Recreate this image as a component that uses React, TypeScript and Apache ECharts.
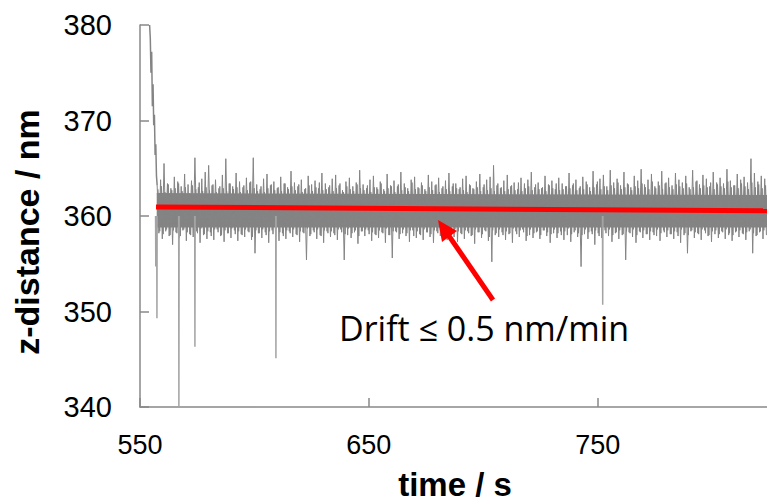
import React, { useEffect, useRef } from "react";
import * as echarts from "echarts";

// ---- data ----
const xTicks = [550, 650, 750];
const yTicks = [340, 350, 360, 370, 380];

// initial transient (time s, z nm)
const transTimes = [554.2, 554.5, 554.8, 555.1, 555.4, 555.7, 556.0, 556.3, 556.6, 556.9, 557.2, 557.5];
const transVals = [380.0, 378.6, 375.0, 377.2, 371.5, 373.8, 369.5, 370.6, 366.4, 367.5, 364.2, 363.2];

// noise trace: sample start time and step (s) between consecutive peak/valley pairs
const traceStart = 557.5;
const traceStep = 1.5;
// upper excursions of the noise band (nm), first pass
const topVals = [
  363.2, 363.8, 365.5, 363.4, 362.9, 364.1, 363.6, 363.1, 364.4, 363.3,
  363.7, 366.1, 363.0, 363.9, 364.6, 365.3, 363.2, 363.8, 362.9, 364.3,
  366.0, 363.4, 363.1, 364.5, 363.6, 363.0, 364.0, 363.5, 366.1, 363.3,
  362.8, 363.9, 364.4, 363.2, 363.6, 362.9, 364.1, 363.4, 363.0, 364.7,
  363.5, 363.1, 363.8, 362.8, 364.2, 363.3, 363.7, 362.9, 364.5, 363.4,
  363.0, 363.9, 364.3, 363.2, 362.7, 363.6, 364.0, 363.1, 363.5, 364.8,
  363.3, 362.9, 363.8, 364.2, 363.0, 363.6, 362.8, 364.4, 363.2, 363.7,
  363.1, 364.6, 363.4, 362.9, 363.8, 364.1, 363.0, 363.5, 362.8, 364.3,
  363.6, 363.2, 364.0, 362.9, 363.7, 364.5, 363.1, 363.4, 362.8, 363.9,
  364.2, 363.3, 362.9, 363.6, 364.4, 363.0, 363.8, 364.1, 365.3, 363.2,
  362.9, 363.7, 364.3, 363.1, 363.5, 362.8, 364.0, 363.4, 363.8, 364.6,
  363.0, 363.5, 362.9, 364.2, 363.3, 363.7, 362.8, 364.0, 363.4, 363.1,
  364.5, 363.2, 363.8, 362.9, 364.1, 363.6, 363.0, 364.7, 363.3, 363.9,
  364.3, 363.1, 364.8, 363.5, 363.9, 363.2, 364.6, 363.4, 363.0, 364.2,
  363.7, 364.9, 363.3, 363.8, 364.4, 363.1, 363.6, 364.7, 363.4, 364.0,
  363.2, 364.5, 363.8, 363.5, 364.2, 363.0, 364.8, 363.6, 363.3, 364.3,
  363.9, 363.1, 364.6, 363.5, 364.0, 363.4, 364.9, 363.7, 363.2, 364.4,
  363.8, 364.1, 363.5, 366.0, 364.5, 363.6, 364.2, 363.9,
];
// lower excursions of the noise band (nm), first pass
const botVals = [
  358.2, 357.6, 358.4, 357.9, 357.0, 358.3, 357.7, 358.5, 357.4, 358.1,
  357.8, 358.4, 357.2, 358.0, 357.6, 358.3, 357.5, 358.6, 357.9, 357.3,
  358.2, 357.7, 358.5, 357.4, 358.1, 357.8, 358.4, 357.5, 356.1, 358.2,
  357.7, 358.3, 357.2, 358.5, 357.9, 357.4, 358.2, 357.6, 358.4, 357.8,
  358.1, 357.3, 358.3, 355.4, 357.9, 358.5, 357.6, 358.0, 357.2, 358.4,
  357.8, 358.2, 357.5, 358.6, 355.4, 358.0, 357.7, 358.3, 357.1, 358.4,
  357.9, 358.5, 357.4, 358.1, 357.7, 358.3, 357.2, 358.0, 355.6, 358.4,
  357.6, 358.2, 357.9, 357.3, 358.5, 357.7, 358.1, 357.5, 358.3, 357.8,
  357.2, 358.4, 357.9, 358.1, 357.5, 358.5, 357.8, 357.3, 358.2, 357.6,
  358.4, 357.9, 357.1, 358.3, 357.7, 358.5, 357.4, 355.2, 358.0, 357.8,
  358.3, 357.5, 358.1, 357.2, 358.4, 357.8, 358.6, 357.4, 358.0, 357.7,
  358.3, 357.6, 358.5, 357.9, 357.2, 358.2, 357.7, 358.4, 357.5, 358.0,
  357.3, 358.3, 357.8, 354.7, 358.1, 357.6, 358.4, 357.0, 358.2, 357.7,
  358.5, 357.9, 357.3, 358.2, 357.6, 358.0, 355.4, 358.3, 357.8, 357.2,
  358.4, 357.7, 358.1, 357.5, 358.3, 357.9, 357.4, 358.5, 357.8, 358.1,
  357.6, 358.3, 357.2, 358.0, 356.1, 358.4, 357.7, 358.2, 357.5, 358.5,
  357.9, 357.3, 358.1, 357.7, 358.4, 357.6, 358.0, 357.4, 358.3, 357.8,
  358.2, 357.5, 358.4, 356.1, 357.9, 358.3, 357.6, 358.0,
];
// second pass (samples half a step later), smaller excursions
const topVals2 = [
  362.8, 363.1, 362.5, 363.3, 362.7, 362.9, 363.4, 362.6, 363.0, 362.4,
  363.2, 362.8, 363.5, 362.6, 363.0, 362.7, 363.3, 362.5, 363.1, 362.9,
  362.6, 363.4, 362.8, 363.0, 362.5, 363.2, 362.7, 363.6, 362.9, 362.6,
  363.1, 362.5, 362.9, 363.3, 362.7, 363.0, 362.6, 363.4, 362.8, 363.1,
  362.7, 363.3, 362.5, 362.9, 363.2, 362.6, 363.0, 363.5, 362.7, 362.8,
  363.2, 362.6, 362.9, 363.4, 362.5, 363.1, 362.8, 362.6, 363.3, 362.9,
  362.7, 363.2, 362.5, 363.0, 362.8, 363.4, 362.6, 362.9, 363.1, 362.5,
  363.3, 362.7, 363.0, 362.6, 363.5, 362.8, 362.9, 363.2, 362.6, 363.0,
  362.7, 363.3, 362.5, 363.1, 362.8, 362.6, 363.4, 362.9, 363.0, 362.7,
  362.5, 363.2, 362.8, 363.0, 362.6, 363.3, 362.7, 362.9, 362.6, 363.4,
  363.0, 362.6, 362.8, 363.2, 362.7, 363.5, 362.6, 362.9, 363.1, 362.7,
  363.3, 362.8, 363.0, 362.6, 363.2, 362.9, 363.4, 362.7, 362.8, 363.1,
  362.9, 363.4, 362.7, 363.1, 362.8, 363.3, 362.6, 363.0, 363.6, 362.8,
  363.1, 362.7, 363.2, 362.9, 363.5, 362.8, 363.0, 363.3, 362.7, 363.1,
  362.9, 363.4, 363.0, 362.8, 363.6, 362.9, 363.2, 362.8, 363.5, 363.0,
  362.8, 363.3, 363.1, 362.9, 363.4, 362.8, 363.0, 363.7, 362.9, 363.2,
  363.0, 363.5, 362.8, 363.3, 363.1, 362.9, 363.6, 363.0, 363.2, 362.9,
  363.4, 363.1, 362.8, 363.5, 363.0, 363.3, 362.9, 363.2,
];
const botVals2 = [
  358.4, 358.1, 358.6, 358.0, 358.5, 358.2, 357.9, 358.6, 358.3, 358.0,
  358.5, 358.2, 358.7, 358.1, 358.4, 357.9, 358.6, 358.3, 358.0, 358.5,
  358.2, 358.7, 358.1, 358.4, 358.0, 358.6, 358.3, 357.8, 358.5, 358.2,
  358.6, 358.0, 358.4, 358.1, 358.7, 358.3, 357.9, 358.5, 358.2, 358.6,
  358.0, 358.4, 358.2, 358.7, 358.1, 358.3, 358.6, 357.9, 358.5, 358.2,
  358.4, 358.0, 358.6, 358.3, 358.1, 358.7, 358.2, 358.5, 357.9, 358.4,
  358.6, 358.1, 358.3, 358.0, 358.5, 358.2, 358.7, 358.0, 358.4, 358.3,
  358.1, 358.6, 358.2, 358.5, 357.9, 358.4, 358.0, 358.6, 358.3, 358.1,
  358.5, 358.2, 358.7, 357.9, 358.3, 358.0, 358.6, 358.4, 358.1, 358.5,
  358.2, 358.0, 358.6, 358.3, 358.1, 358.4, 357.8, 358.5, 358.2, 358.6,
  358.0, 358.4, 358.2, 358.7, 358.1, 358.5, 358.3, 357.9, 358.6, 358.2,
  358.4, 358.0, 358.5, 358.3, 358.1, 358.6, 358.2, 358.0, 358.4, 358.7,
  358.1, 358.5, 358.2, 358.0, 358.6, 358.3, 358.1, 358.5, 357.9, 358.4,
  358.2, 358.6, 358.0, 358.3, 358.5, 358.1, 358.4, 358.2, 358.6, 358.0,
  358.3, 358.5, 358.1, 358.4, 358.0, 358.6, 358.2, 358.3, 358.5, 358.1,
  358.4, 357.9, 358.6, 358.2, 358.0, 358.5, 358.3, 358.1, 358.6, 358.2,
  358.0, 358.4, 358.5, 358.1, 358.3, 358.6, 358.2, 358.0, 358.4, 358.5,
  358.1, 358.3, 358.6, 358.2, 358.0, 358.4, 358.5, 358.2,
];

// dense core of the band
const coreTimes = [557.3, 824];
const coreHigh = [362.4, 362.2];
const coreLow = 358.8;

// isolated deep downward spikes
const spikeTimes = [556.9, 557.4, 567.0, 574.0, 609.4, 752.2];
const spikeVals = [354.7, 349.3, 340.0, 346.3, 345.1, 350.7];

// linear drift fit
const fitTimes = [557.0, 824];
const fitVals = [360.95, 360.55];

const annotation = "Drift \u2264 0.5 nm/min";

export default function App() {
  const ref = useRef<HTMLDivElement>(null);
  useEffect(() => {
    if (!ref.current) return;
    const chart = echarts.init(ref.current, null, { renderer: "svg" });

    const zigzag = (tops: number[], bots: number[], offset: number) => {
      const out: number[][] = [];
      tops.forEach((v, i) => {
        const t = traceStart + offset + i * traceStep;
        out.push([t, v]);
        out.push([t + traceStep / 2, bots[i]]);
      });
      return out;
    };
    const zig1 = zigzag(topVals, botVals, 0);
    const zig2 = zigzag(topVals2, botVals2, traceStep / 4);
    const trans = transTimes.map((t, i) => [t, transVals[i]]);
    const core = coreTimes.map((t, i) => [t, coreHigh[i]]);
    const fit = fitTimes.map((t, i) => [t, fitVals[i]]);

    const gray = "#848484";
    const axisColor = "#888888";

    const spikeSeries = spikeTimes.map((t, i) => ({
      type: "line",
      data: [
        [t - 0.1, 360],
        [t, spikeVals[i]],
        [t + 0.1, 360],
      ],
      symbol: "none",
      lineStyle: { width: 1.5, color: "#a3a3a3" },
      z: 2,
    }));

    chart.setOption({
      animation: false,
      grid: { left: 140, top: 25, right: 0, bottom: 95 },
      xAxis: {
        type: "value",
        min: 550,
        max: 824,
        interval: 100,
        axisLine: { lineStyle: { color: axisColor, width: 1.5 } },
        axisTick: { inside: true, length: 9, lineStyle: { color: axisColor, width: 1.5 } },
        splitLine: { show: false },
        axisLabel: {
          margin: 24,
          fontSize: 27,
          color: "#000",
          fontFamily: "Liberation Sans",
          showMaxLabel: false,
          formatter: (v: number) => (xTicks.includes(v) ? String(v) : ""),
        },
      },
      yAxis: {
        type: "value",
        min: 340,
        max: 380,
        interval: 10,
        axisLine: { show: true, lineStyle: { color: axisColor, width: 1.5 } },
        axisTick: { show: true, inside: true, length: 9, lineStyle: { color: axisColor, width: 1.5 } },
        splitLine: { show: false },
        axisLabel: {
          margin: 28,
          fontSize: 29,
          color: "#000",
          fontFamily: "Liberation Sans",
          formatter: (v: number) => (yTicks.includes(v) ? String(v) : ""),
        },
      },
      series: [
        {
          type: "line",
          data: core,
          symbol: "none",
          lineStyle: { width: 0 },
          areaStyle: { color: gray, opacity: 1, origin: coreLow },
          z: 1,
        },
        {
          type: "line",
          data: zig1,
          symbol: "none",
          lineStyle: { width: 1, color: gray },
          z: 2,
        },
        {
          type: "line",
          data: zig2,
          symbol: "none",
          lineStyle: { width: 1, color: gray },
          z: 2,
        },
        {
          type: "line",
          data: trans,
          symbol: "none",
          lineStyle: { width: 1.5, color: gray },
          z: 2,
        },
        ...spikeSeries,
        {
          type: "line",
          data: fit,
          symbol: "none",
          lineStyle: { width: 5, color: "#ff0000" },
          z: 5,
        },
      ],
      graphic: [
        {
          type: "text",
          x: 27,
          y: 232,
          rotation: Math.PI / 2,
          style: {
            text: "z-distance / nm",
            font: 'bold 34px "Liberation Sans"',
            fill: "#000",
            align: "center",
            verticalAlign: "middle",
          },
        },
        {
          type: "text",
          x: 455,
          y: 484,
          style: {
            text: "time / s",
            font: 'bold 33px "Liberation Sans"',
            fill: "#000",
            align: "center",
            verticalAlign: "middle",
          },
        },
        {
          type: "text",
          x: 339,
          y: 328,
          style: {
            text: annotation,
            font: '34px "Open Sans"',
            fill: "#000",
            align: "left",
            verticalAlign: "middle",
          },
        },
        {
          type: "line",
          shape: { x1: 493, y1: 300, x2: 449, y2: 236 },
          style: { stroke: "#ff0000", lineWidth: 5 },
          z: 10,
        },
        {
          type: "polygon",
          shape: { points: [[438, 220], [457, 231], [442, 242]] },
          style: { fill: "#ff0000" },
          z: 10,
        },
      ],
    });
    return () => chart.dispose();
  }, []);
  return (
    <div
      ref={ref}
      style={{ position: "fixed", left: 0, top: 0, width: 767, height: 502, background: "#fff" }}
    />
  );
}
